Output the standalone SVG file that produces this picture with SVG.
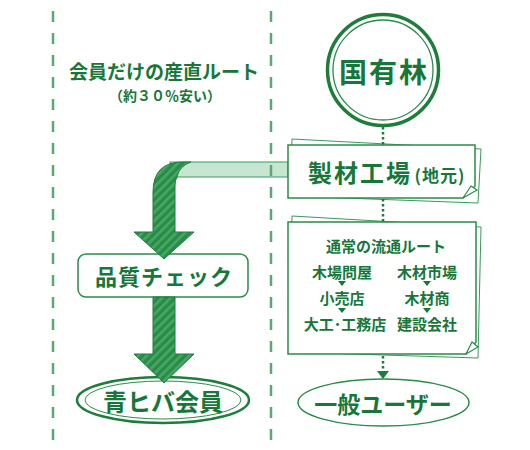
<svg xmlns="http://www.w3.org/2000/svg" width="530" height="450" viewBox="0 0 530 450">
<defs>
<pattern id="stripe" patternUnits="userSpaceOnUse" width="6" height="6" patternTransform="rotate(45)">
<rect width="6" height="6" fill="#2b8a48"/>
<rect width="2.6" height="6" fill="#45a865"/>
</pattern>
</defs>
<style>
.t{font-family:"Noto Sans CJK JP","Noto Sans",sans-serif;fill:#17773a;font-weight:700;text-anchor:middle;dominant-baseline:central}
.ln{fill:none;stroke:#2a8c4a;stroke-width:1.5}
.sheet{fill:#fff;stroke:#3a9a5a;stroke-width:1}
.dash{fill:none;stroke:#5aa874;stroke-width:2.5;stroke-dasharray:11 11}
.dot{fill:none;stroke:#1f7d3c;stroke-width:2.5;stroke-dasharray:2.5 2.5}
.arrow{fill:url(#stripe);stroke:#1f7d3c;stroke-width:1}
</style>
<rect width="530" height="450" fill="#fff"/>

<g id="band">
<rect x="170" y="162" width="118" height="15" fill="#c7e6d1" stroke="#3a9a5a" stroke-width="1"/>
</g>

<g id="guides">
<line class="dash" x1="53" y1="11" x2="53" y2="440"/>
<line class="dash" x1="271" y1="11" x2="271" y2="440"/>
</g>

<g id="route-label">
<text class="t" x="164" y="70.5" font-size="19" font-weight="500">会員だけの産直ルート</text>
<text class="t" x="165" y="95" font-size="14" font-weight="500">（約３０％安い）</text>
</g>

<g id="kokuyurin">
<circle cx="383" cy="70" r="55.5" fill="#fff" stroke="#1f7d3c" stroke-width="3.5"/>
<circle cx="383" cy="70" r="50" fill="none" stroke="#2a8c4a" stroke-width="1.3"/>
<text class="t" x="384" y="71" font-size="28" letter-spacing="2">国有林</text>
</g>

<g id="seizai">
<polygon class="sheet" points="292,139 481,149 478,203 290,196"/>
<path class="ln" style="fill:#fff" d="M288,145 H475 V186 L463,198 H288 Z"/>
<polygon points="463,198 471,186 477,190" fill="#fff" stroke="#2a8c4a" stroke-width="1.2"/>
<text class="t" x="360" y="171" font-size="24" letter-spacing="2">製材工場</text>
<text class="t" x="440" y="174" font-size="17" font-weight="500" letter-spacing="1">(地元)</text>
</g>

<g id="normal-route">
<polygon class="sheet" points="292,216 481,227 478,358 289,352"/>
<path class="ln" style="fill:#fff" d="M288,222 H476 V342 L466,354 H288 Z"/>
<polygon points="466,354 472,342 478,347" fill="#fff" stroke="#2a8c4a" stroke-width="1.2"/>
<text class="t" x="386" y="245" font-size="15">通常の流通ルート</text>
<text class="t" x="342" y="271" font-size="15">木場問屋</text>
<text class="t" x="427" y="271" font-size="15">木材市場</text>
<polygon points="338,281 346,281 342,286" fill="#17773a"/>
<polygon points="423,281 431,281 427,286" fill="#17773a"/>
<text class="t" x="342" y="297" font-size="15">小売店</text>
<text class="t" x="427" y="297" font-size="15">木材商</text>
<polygon points="338,308 346,308 342,313" fill="#17773a"/>
<polygon points="423,308 431,308 427,313" fill="#17773a"/>
<text class="t" x="345" y="323" font-size="15">大工･工務店</text>
<text class="t" x="427" y="323" font-size="15">建設会社</text>
</g>

<g id="quality">
<rect x="78" y="254" width="170" height="43" rx="8" fill="#fff" stroke="#2a8c4a" stroke-width="1.5"/>
<text class="t" x="164" y="275" font-size="22" letter-spacing="1">品質チェック</text>
</g>

<g id="aohiba">
<ellipse cx="163" cy="400" rx="86" ry="23" fill="#fff" stroke="#1f7d3c" stroke-width="2.5"/>
<ellipse cx="163" cy="400" rx="78" ry="19" fill="none" stroke="#2a8c4a" stroke-width="1"/>
<text class="t" x="163" y="400" font-size="24">青ヒバ会員</text>
</g>

<g id="ippan">
<ellipse cx="383.5" cy="402.5" rx="85.5" ry="23.5" fill="#fff" stroke="#2a8c4a" stroke-width="1.5"/>
<text class="t" x="383" y="403" font-size="23">一般ユーザー</text>
</g>

<g id="connectors">
<line class="dot" x1="383" y1="127" x2="383" y2="145"/>
<line class="dot" x1="383" y1="199" x2="383" y2="222"/>
<line class="dot" x1="383" y1="356" x2="383" y2="372"/>
<polygon points="377,371 389,371 383,379" fill="#1f7d3c"/>
<path class="arrow" d="M153,232 L153,192 Q153,162 183,162 L191,162 Q179,166 177,177 Q175,180 175,186 L175,232 L194,232 L164,259 L134,232 Z"/>
<path class="arrow" d="M153,297 L175,297 L175,354 L194,354 L164,383 L134,354 L153,354 Z"/>
</g>
</svg>
